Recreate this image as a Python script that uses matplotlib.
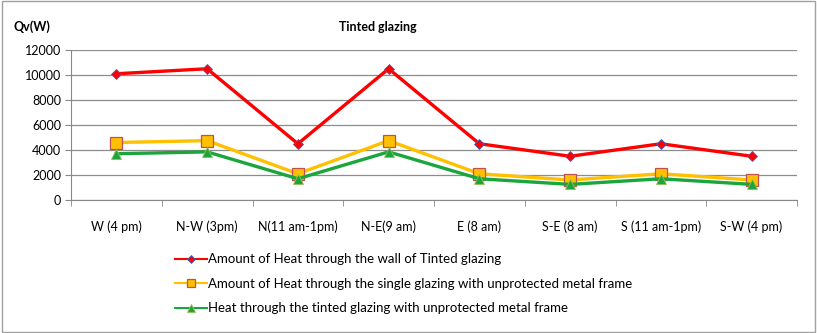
import matplotlib
matplotlib.use("Agg")
import matplotlib.pyplot as plt
from matplotlib.patches import Rectangle
from matplotlib.lines import Line2D
import numpy as np

categories = ["W (4 pm)", "N-W (3pm)", "N(11 am-1pm)", "N-E(9 am)", "E (8 am)",
              "S-E (8 am)", "S (11 am-1pm)", "S-W (4 pm)"]
wall = [10100, 10500, 4500, 10500, 4500, 3500, 4500, 3500]
single = [4600, 4750, 2100, 4750, 2100, 1600, 2100, 1600]
tinted = [3700, 3850, 1700, 3850, 1700, 1250, 1700, 1250]
labels = ["Amount of Heat through the wall of Tinted glazing",
          "Amount of Heat through the single glazing with unprotected metal frame",
          "Heat through the tinted glazing with unprotected metal frame"]
yticks = [0, 2000, 4000, 6000, 8000, 10000, 12000]

plt.rcParams['font.family'] = ['Lato', 'DejaVu Sans']

fig = plt.figure(figsize=(8.17, 3.33), dpi=100)
fig.patches.append(Rectangle((0.002, 0.003), 0.995, 0.993, transform=fig.transFigure,
                             fill=False, edgecolor='#a0a0a0', linewidth=1))
ax = fig.add_axes([71/817, 1-200/333, 726/817, 150/333])
x = np.arange(len(categories))
styles = [
    dict(color='#ff0000', marker='D', mfc='#ff0000', mec='#4060c0', mew=0.6, ms=5.5),
    dict(color='#ffc000', marker='s', mfc='#ffc000', mec='#c0504d', mew=0.9, ms=8),
    dict(color='#1aa63c', marker='^', mfc='#1aa63c', mec='#9bbb59', mew=0.6, ms=7.5),
]
for data, st in zip([wall, single, tinted], styles):
    ax.plot(x, data, lw=2.4, **st)

ax.set_xlim(-0.5, len(categories)-0.5)
ax.set_ylim(0, 12000)
ax.set_yticks(yticks)
ax.set_yticklabels([str(v) for v in yticks], fontsize=9)
ax.set_xticks(x)
ax.set_xticklabels(categories, fontsize=9)
ax.set_xticks(np.arange(-0.5, len(categories)), minor=True)
ax.tick_params(axis='x', which='major', length=0, pad=15)
ax.tick_params(axis='x', which='minor', length=4, color='#888888')
ax.tick_params(axis='y', length=4, color='#888888', pad=3)
ax.grid(axis='y', color='#8c8c8c', lw=0.9)
ax.set_axisbelow(True)
for s in ['top', 'right']:
    ax.spines[s].set_visible(False)
for s in ['left', 'bottom']:
    ax.spines[s].set_color('#888888')

fig.text(13/817, 1-27/333, "Qv(W)", fontsize=9, fontweight='bold', va='center', ha='left')
fig.text(378/817, 1-27/333, "Tinted glazing", fontsize=9, fontweight='bold', va='center', ha='center')

handles = []
for st, lab in zip(styles, labels):
    s2 = dict(st)
    s2['ms'] = st['ms'] * 0.75
    handles.append(Line2D([], [], lw=1.5, label=lab, **s2))
fig.legend(handles=handles, loc='upper left', bbox_to_anchor=(170/817, 1-248/333),
           frameon=False, fontsize=9.5, handlelength=2.4, handletextpad=0.1,
           labelspacing=0.95, borderaxespad=0)

fig.savefig("out.png", dpi=100)
